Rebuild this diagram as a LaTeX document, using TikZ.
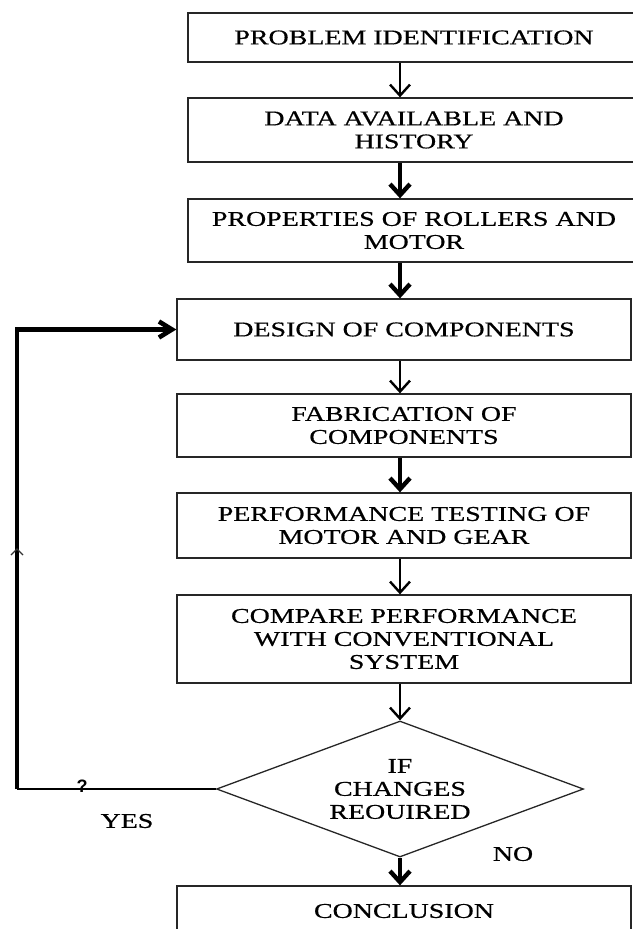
\documentclass[tikz,border=0pt]{standalone}
\usepackage{fontspec}
\setmainfont{Liberation Serif}
\newfontfamily\flowfont{Liberation Serif}[FakeStretch=1.33,FakeBold=0.6]
\newfontfamily\qfont{Liberation Sans}
\usetikzlibrary{arrows.meta,shapes.geometric}
\begin{document}
\begin{tikzpicture}[x=1pt,y=-1pt,
  box/.style={draw=black!85,line width=1.3pt,inner sep=0pt,align=center,
    font=\flowfont\fontsize{21}{23}\selectfont},
  lbl/.style={inner sep=0pt,font=\flowfont\fontsize{21}{23}\selectfont},
  thinarrow/.style={line width=2.4pt,-{Straight Barb[length=11pt,width=20pt]}},
  thickarrow/.style={line width=4.4pt,-{Straight Barb[length=11pt,width=20pt]}}]
\useasboundingbox (0,0) rectangle (632,929);
\node[box,minimum width=452pt,minimum height=49pt] (b1) at (414,37.5) {PROBLEM IDENTIFICATION};
\node[box,minimum width=452pt,minimum height=64pt] (b2) at (414,130) {DATA AVAILABLE AND\\HISTORY};
\node[box,minimum width=452pt,minimum height=63pt] (b3) at (414,230.5) {PROPERTIES OF ROLLERS AND\\MOTOR};
\node[box,minimum width=454pt,minimum height=61pt] (b4) at (404,329.5) {DESIGN OF COMPONENTS};
\node[box,minimum width=454pt,minimum height=63pt] (b5) at (404,425.5) {FABRICATION OF\\COMPONENTS};
\node[box,minimum width=454pt,minimum height=65pt] (b6) at (404,525.5) {PERFORMANCE TESTING OF\\MOTOR AND GEAR};
\node[box,minimum width=454pt,minimum height=88pt] (b7) at (404,639) {COMPARE PERFORMANCE\\WITH CONVENTIONAL\\SYSTEM};
\node[box,shape=diamond,aspect=2.7,minimum width=367pt,minimum height=136pt] (dia) at (400,789) {IF\\CHANGES\\REOUIRED};
\node[box,minimum width=454pt,minimum height=50pt] (cc) at (404,911) {CONCLUSION};
\coordinate (ax) at (400,0);
\draw[thinarrow] (b1.south -| ax) -- (b2.north -| ax);
\draw[thickarrow] (b2.south -| ax) -- (b3.north -| ax);
\draw[thickarrow] (b3.south -| ax) -- (b4.north -| ax);
\draw[thinarrow] (b4.south -| ax) -- (b5.north -| ax);
\draw[thickarrow] (b5.south -| ax) -- (b6.north -| ax);
\draw[thinarrow] (b6.south -| ax) -- (b7.north -| ax);
\draw[thinarrow] (b7.south -| ax) -- (dia.north);
\draw[thickarrow] (dia.south) -- (cc.north -| ax);
\coordinate (fb1) at (17,789);
\coordinate (fb2) at (17,329.5);
\draw[line width=1.6pt] (dia.west) -- (fb1);
\draw[line width=4.6pt,line join=miter,-{Straight Barb[length=13pt,width=16pt]}] (fb1) -- (fb2) -- (b4.west);
\draw[line width=1.2pt,draw=black!80] (11,555) -- (17,549) -- (23,555);
\node[inner sep=0pt,font=\qfont\bfseries\fontsize{18}{18}\selectfont] (q) at (82,786) {?};
\node[lbl] (yes) at (127,821) {YES};
\node[lbl] (no) at (513,854) {NO};
\end{tikzpicture}
\end{document}
